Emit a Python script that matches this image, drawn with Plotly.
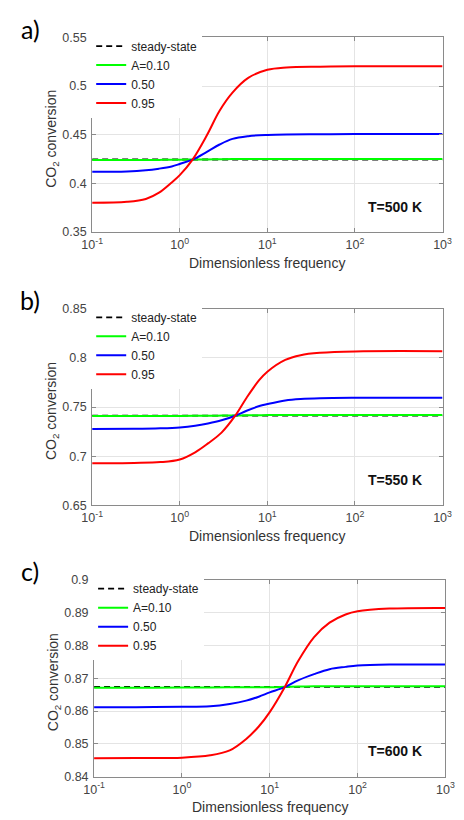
import plotly.graph_objects as go

# ---- data: CO2 conversion vs dimensionless frequency for three temperatures ----
series_names = ["steady-state", "A=0.10", "0.50", "0.95"]
x_tick_vals = [0.1, 1, 10, 100, 1000]
x_tick_text = ["10<sup>-1</sup>", "10<sup>0</sup>", "10<sup>1</sup>", "10<sup>2</sup>", "10<sup>3</sup>"]

# T = 500 K
freq_a = [0.1, 0.25, 0.41, 0.58, 0.81, 1.0, 1.4, 2.04, 2.85, 4.0, 6.05, 10, 16.5, 40, 100, 1000]
red_a = [0.3801, 0.3811, 0.3840, 0.3905, 0.4010, 0.4085, 0.4245, 0.4495, 0.4747, 0.4933, 0.5084, 0.5168, 0.5192, 0.5200, 0.5203, 0.5204]
blue_a = [0.4119, 0.4123, 0.4135, 0.4152, 0.4175, 0.4200, 0.4245, 0.4325, 0.4400, 0.4458, 0.4486, 0.4499, 0.4504, 0.4506, 0.4507, 0.4507]
green_a = [0.4240, 0.4240, 0.4241, 0.4242, 0.4243, 0.4244, 0.4245, 0.4247, 0.4249, 0.4250, 0.4251, 0.4252, 0.4252, 0.4252, 0.4252, 0.4252]
steady_a = 0.4246
yticks_a = [0.35, 0.40, 0.45, 0.50, 0.55]
ylabels_a = ["0.35", "0.4", "0.45", "0.5", "0.55"]

# T = 550 K
freq_b = [0.1, 0.3, 0.6, 1.0, 1.5, 2.1, 3.0, 4.3, 5.8, 8.1, 10, 16, 24, 40, 100, 1000]
red_b = [0.6929, 0.6932, 0.6940, 0.6967, 0.7040, 0.7130, 0.7240, 0.7412, 0.7595, 0.7776, 0.7860, 0.7980, 0.8028, 0.8052, 0.8066, 0.8068]
blue_b = [0.7277, 0.7279, 0.7284, 0.7293, 0.7310, 0.7333, 0.7365, 0.7412, 0.7462, 0.7510, 0.7530, 0.7567, 0.7582, 0.7590, 0.7594, 0.7595]
green_b = [0.7408, 0.7408, 0.7409, 0.7410, 0.7411, 0.7412, 0.7413, 0.7414, 0.7416, 0.7417, 0.7418, 0.7418, 0.7418, 0.7418, 0.7418, 0.7418]
steady_b = 0.7413
yticks_b = [0.65, 0.70, 0.75, 0.80, 0.85]
ylabels_b = ["0.65", "0.7", "0.75", "0.8", "0.85"]

# T = 600 K
freq_c = [0.1, 0.3, 1.0, 2.1, 3.5, 5.4, 7.5, 10, 14.8, 21, 32, 48, 73, 100, 230, 1000]
red_c = [0.8456, 0.8457, 0.8458, 0.8465, 0.8480, 0.8515, 0.8553, 0.8597, 0.8673, 0.8752, 0.8826, 0.8870, 0.8895, 0.8905, 0.8913, 0.8915]
blue_c = [0.8612, 0.8612, 0.8613, 0.8615, 0.8622, 0.8632, 0.8644, 0.8657, 0.8673, 0.8694, 0.8713, 0.8728, 0.8735, 0.8739, 0.8742, 0.8742]
green_c = [0.8671, 0.8671, 0.8672, 0.8672, 0.8673, 0.8673, 0.8673, 0.8673, 0.8674, 0.8675, 0.8676, 0.8676, 0.8676, 0.8676, 0.8676, 0.8676]
steady_c = 0.8674
yticks_c = [0.84, 0.85, 0.86, 0.87, 0.88, 0.89, 0.90]
ylabels_c = ["0.84", "0.85", "0.86", "0.87", "0.88", "0.89", "0.9"]

temps = ["T=500 K", "T=550 K", "T=600 K"]
panel_tags = ["a)", "b)", "c)"]

# ---- layout geometry (pixels in a 464 x 820 page) ----
W, H = 464, 820
boxes = [(85, 452, 31, 229), (85, 452, 307, 507), (87, 455, 583, 783)]
FONT = "Liberation Sans, Arial, sans-serif"
AXIS_GRAY = "#8a8a8a"
TICK_TXT = "#444444"

def fx(p):
    return p / W

def fy(p):
    return 1 - p / H

panels = [
    (freq_a, red_a, blue_a, green_a, steady_a, yticks_a, ylabels_a),
    (freq_b, red_b, blue_b, green_b, steady_b, yticks_b, ylabels_b),
    (freq_c, red_c, blue_c, green_c, steady_c, yticks_c, ylabels_c),
]

fig = go.Figure()
layout = dict(
    width=W, height=H, margin=dict(l=0, r=0, t=0, b=0),
    paper_bgcolor="white", plot_bgcolor="white",
    font=dict(family=FONT, color=TICK_TXT),
    annotations=[],
)

for i, (freq, red, blue, green, steady, yt, yl) in enumerate(panels):
    n = "" if i == 0 else str(i + 1)
    xa, ya, lg = "x" + n, "y" + n, "legend" + n
    left, right, top, bottom = boxes[i]

    common = dict(xaxis=xa, yaxis=ya, legend=lg, mode="lines")
    fig.add_trace(go.Scatter(x=[freq[0], freq[-1]], y=[steady, steady], name=series_names[0],
                             line=dict(color="black", width=1.8, dash="6px,4px"), **common))
    fig.add_trace(go.Scatter(x=freq, y=green, name=series_names[1], line_shape="spline",
                             line=dict(color="#00ff00", width=2), **common))
    fig.add_trace(go.Scatter(x=freq, y=blue, name=series_names[2], line_shape="spline",
                             line=dict(color="#0000ff", width=2), **common))
    fig.add_trace(go.Scatter(x=freq, y=red, name=series_names[3], line_shape="spline",
                             line=dict(color="#ff0000", width=2), **common))

    layout["xaxis" + n] = dict(
        type="log", range=[-1, 3], domain=[fx(left), fx(right)], anchor=ya,
        tickvals=x_tick_vals, ticktext=x_tick_text,
        showline=True, mirror="ticks", linecolor=AXIS_GRAY, linewidth=1,
        ticks="inside", ticklen=4, tickcolor=AXIS_GRAY, ticklabelstandoff=1,
        showgrid=True, gridcolor="#e4e4e4", gridwidth=1, zeroline=False,
        tickfont=dict(size=12.5, color=TICK_TXT),
    )
    layout["yaxis" + n] = dict(
        range=[yt[0], yt[-1]], domain=[fy(bottom), fy(top)], anchor=xa,
        tickvals=yt, ticktext=yl,
        showline=True, mirror="ticks", linecolor=AXIS_GRAY, linewidth=1,
        ticks="inside", ticklen=4, tickcolor=AXIS_GRAY, ticklabelstandoff=2,
        showgrid=True, gridcolor="#e4e4e4", gridwidth=1, zeroline=False,
        tickfont=dict(size=12.5, color=TICK_TXT),
    )
    layout[lg] = dict(
        x=fx(left - 1), y=fy(top - 6), xanchor="left", yanchor="top",
        bgcolor="white", borderwidth=0, itemwidth=30,
        font=dict(size=12, color="#222222", family=FONT),
        tracegroupgap=0,
    )

    cx = (left + right) / 2
    cy = (top + bottom) / 2
    # x-axis title
    layout["annotations"].append(dict(
        text="Dimensionless frequency", x=fx(cx), y=fy(bottom + 31), xref="paper", yref="paper",
        xanchor="center", yanchor="middle", showarrow=False,
        font=dict(size=14, color="#333333", family=FONT)))
    # y-axis title
    layout["annotations"].append(dict(
        text="CO<sub>2</sub> conversion", x=fx(left - 42), y=fy(cy + 4), xref="paper", yref="paper",
        xanchor="center", yanchor="middle", textangle=-90, showarrow=False,
        font=dict(size=14, color="#333333", family=FONT)))
    # temperature label
    layout["annotations"].append(dict(
        text="<b>" + temps[i] + "</b>", x=fx(402), y=fy(bottom - 26), xref="paper", yref="paper",
        xanchor="center", yanchor="middle", showarrow=False,
        font=dict(size=14, color="#111111", family=FONT)))
    # panel tag
    layout["annotations"].append(dict(
        text=panel_tags[i], x=fx(20), y=fy(top - 9), xref="paper", yref="paper",
        xanchor="center", yanchor="middle", showarrow=False,
        font=dict(size=25, color="black", family="Lato, Open Sans, sans-serif")))

fig.update_layout(**layout)
fig.write_html("out.html")
